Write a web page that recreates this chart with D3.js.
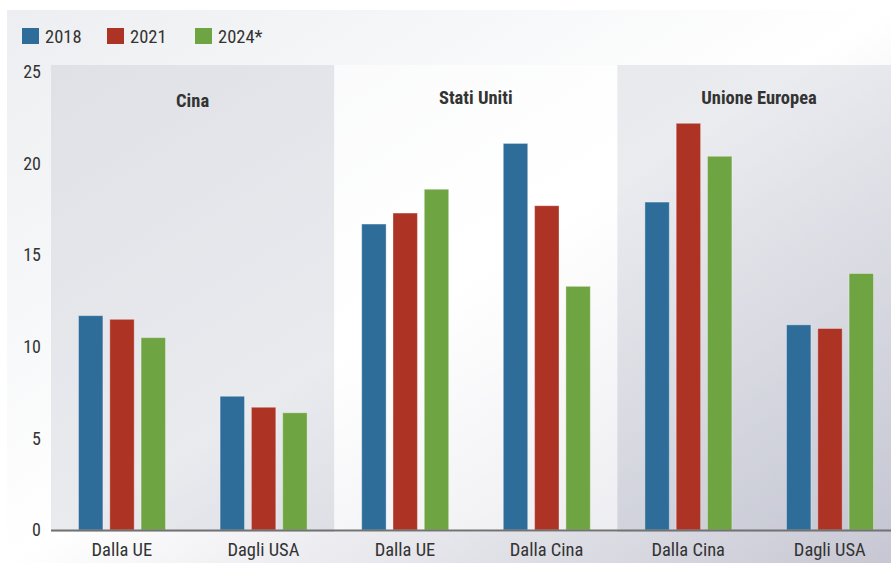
<!DOCTYPE html>
<meta charset="utf-8">
<style>
body { margin: 0; background: #fff; }
text { font-family: "Roboto Condensed", "DejaVu Sans Condensed", Roboto, sans-serif; fill: #333; }
</style>
<svg width="891" height="563"></svg>
<script src="https://d3js.org/d3.v7.min.js"></script>
<script>

var categories = ["Dalla UE", "Dagli USA", "Dalla UE", "Dalla Cina", "Dalla Cina", "Dagli USA"];
var years = ["2018", "2021", "2024*"];
var colors = ["#2e6d99", "#ad3324", "#6fa442"];
var v2018 = [11.7, 7.3, 16.7, 21.1, 17.9, 11.2];
var v2021 = [11.5, 6.7, 17.3, 17.7, 22.2, 11.0];
var v2024 = [10.5, 6.4, 18.6, 13.3, 20.4, 14.0];
var panels = ["Cina", "Stati Uniti", "Unione Europea"];
var yTicks = [0, 5, 10, 15, 20, 25];

var series = [v2018, v2021, v2024];

var svg = d3.select("svg"),
    width = +svg.attr("width"),
    height = +svg.attr("height");

// background gradient
var defs = svg.append("defs");
var grad = defs.append("linearGradient")
    .attr("id", "bg")
    .attr("x1", 0).attr("y1", 0).attr("x2", 1).attr("y2", 1);
grad.append("stop").attr("offset", "0").attr("stop-color", "#eceef1");
grad.append("stop").attr("offset", "0.5").attr("stop-color", "#ffffff");
grad.append("stop").attr("offset", "1").attr("stop-color", "#c6c7d3");

svg.append("rect")
   .attr("x", 7).attr("y", 10)
   .attr("width", width - 7).attr("height", height - 10)
   .attr("fill", "url(#bg)");

var plotLeft = 51, plotTop = 65, plotBottom = 530;

var x0 = d3.scaleBand()
    .domain(d3.range(categories.length))
    .range([plotLeft, plotLeft + 6 * 141.6]);

var x1 = d3.scaleBand()
    .domain(d3.range(years.length))
    .range([27.5, 114.5])
    .paddingInner(0.22);

var y = d3.scaleLinear()
    .domain([0, 25])
    .range([plotBottom, 72]);

// panel shading
var panelFill = ["rgba(190,192,205,0.32)", "rgba(255,255,255,0.5)", "rgba(190,192,205,0.3)"];
svg.selectAll(".panel")
   .data(panels)
   .enter()
   .append("rect")
   .attr("class", "panel")
   .attr("x", function(d, i) { return x0(i * 2); })
   .attr("y", plotTop)
   .attr("width", x0.bandwidth() * 2)
   .attr("height", plotBottom - plotTop + 2)
   .attr("fill", function(d, i) { return panelFill[i]; });

svg.selectAll(".ptitle")
   .data(panels)
   .enter()
   .append("text")
   .attr("class", "ptitle")
   .attr("x", function(d, i) { return x0(i * 2) + x0.bandwidth(); })
   .attr("y", function(d, i) { return i == 0 ? 106.5 : 104; })
   .attr("text-anchor", "middle")
   .attr("font-size", "18.5px")
   .attr("font-weight", "bold")
   .attr("fill", "#3a3a3a")
   .text(function(d) { return d; });

// bars
var groups = svg.selectAll(".grp")
    .data(categories)
    .enter()
    .append("g")
    .attr("class", "grp")
    .attr("transform", function(d, i) { return "translate(" + x0(i) + ",0)"; });

groups.selectAll("rect")
    .data(function(d, i) { return series.map(function(s, k) { return {k: k, v: s[i]}; }); })
    .enter()
    .append("rect")
    .attr("x", function(d) { return x1(d.k); })
    .attr("y", function(d) { return y(d.v); })
    .attr("width", x1.bandwidth())
    .attr("height", function(d) { return y(0) - y(d.v); })
    .attr("fill", function(d) { return colors[d.k]; })
    .attr("stroke", "rgba(255,255,255,0.35)")
    .attr("stroke-width", 1);

// x axis line
svg.append("line")
   .attr("x1", plotLeft).attr("x2", width)
   .attr("y1", plotBottom + 0.5).attr("y2", plotBottom + 0.5)
   .attr("stroke", "#727272")
   .attr("stroke-width", 2);

svg.selectAll(".xlab")
   .data(categories)
   .enter()
   .append("text")
   .attr("class", "xlab")
   .attr("x", function(d, i) { return x0(i) + x0.bandwidth() / 2; })
   .attr("y", 556)
   .attr("text-anchor", "middle")
   .attr("font-size", "18.5px")
   .text(function(d) { return d; });

// y axis labels
var yAxis = svg.append("g")
   .attr("transform", "translate(41,0)")
   .call(d3.axisLeft(y).tickValues(yTicks).tickSize(0).tickPadding(0));
yAxis.select(".domain").remove();
yAxis.selectAll("text")
   .attr("font-size", "18px")
   .attr("font-family", null)
   .attr("fill", "#333")
   .attr("dy", "0.32em");

// legend
var legendX = [22, 107, 195];
var legend = svg.selectAll(".leg")
    .data(years)
    .enter()
    .append("g")
    .attr("class", "leg")
    .attr("transform", function(d, i) { return "translate(" + legendX[i] + ",28)"; });
legend.append("rect")
   .attr("width", 17).attr("height", 16)
   .attr("fill", function(d, i) { return colors[i]; });
legend.append("text")
   .attr("x", 23).attr("y", 14.5)
   .attr("font-size", "18.5px")
   .text(function(d) { return d; });

</script>
